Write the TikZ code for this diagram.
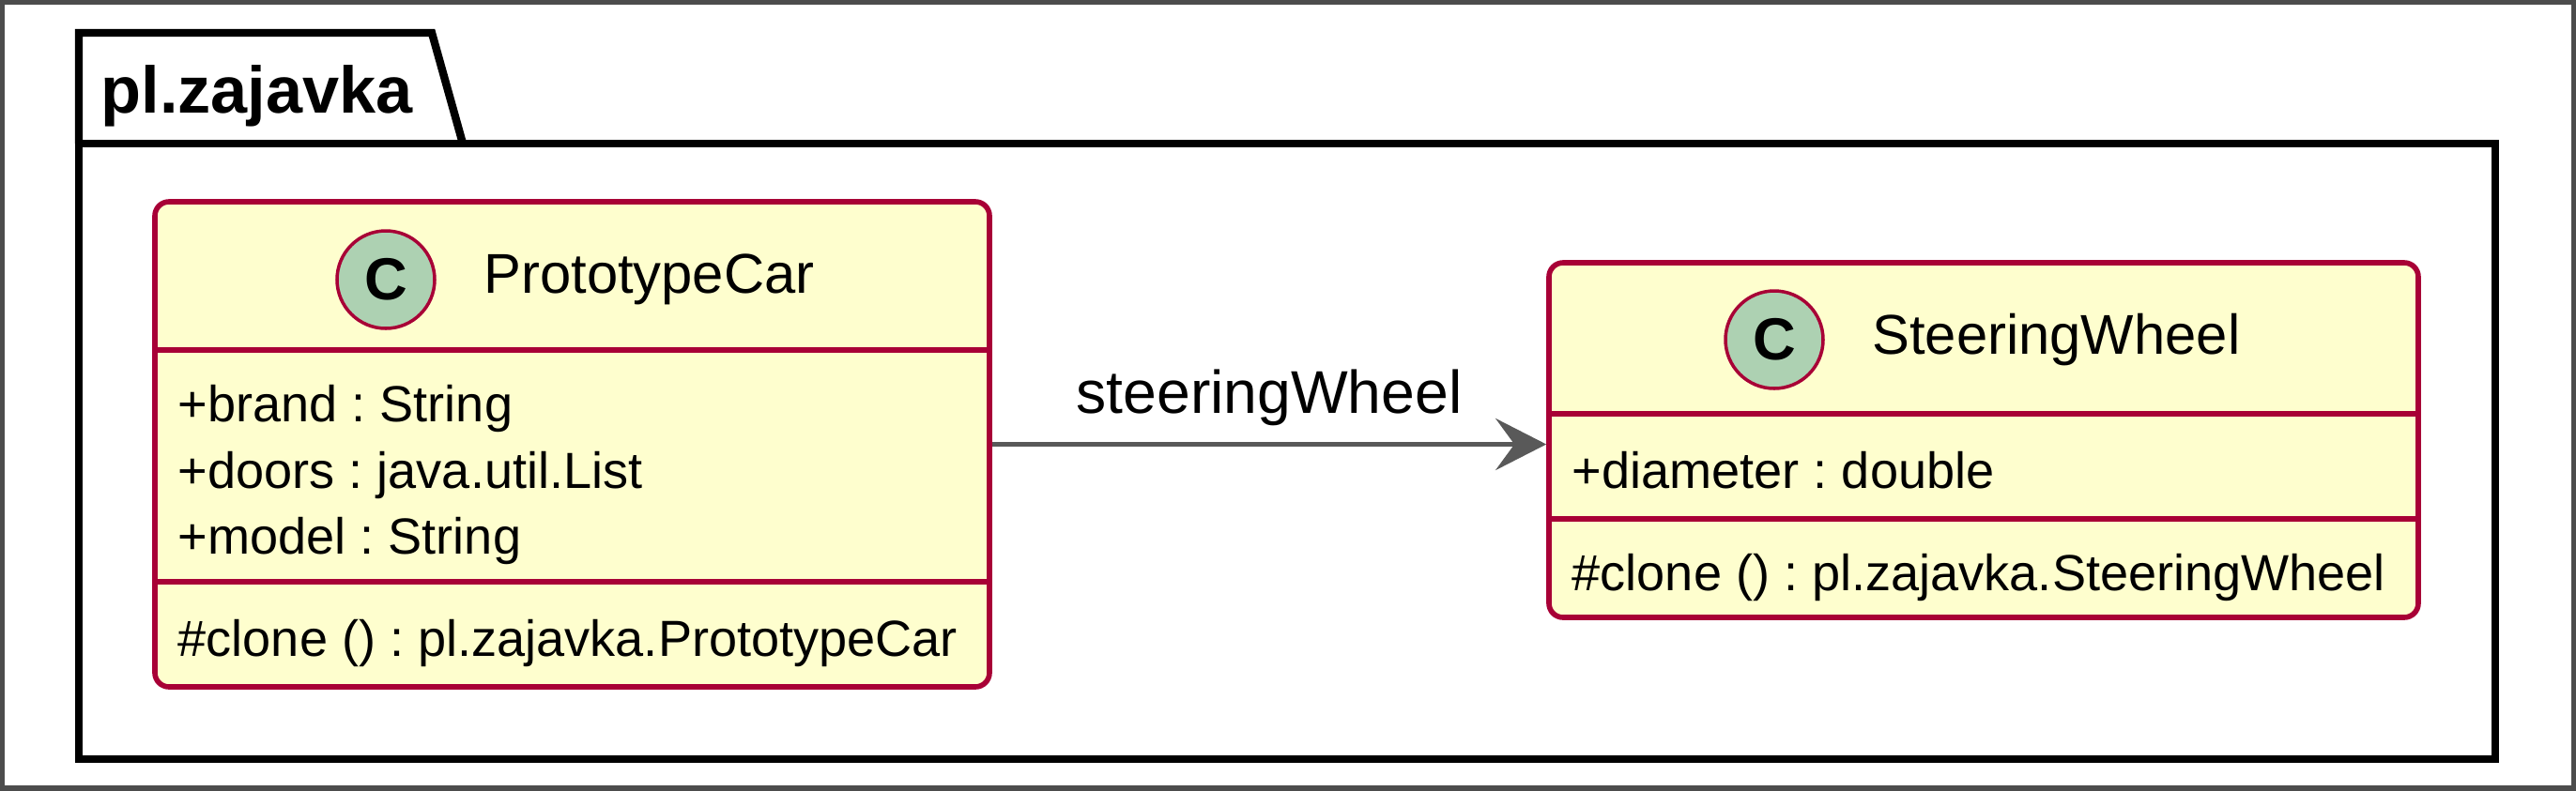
\documentclass[tikz,border=0pt]{standalone}
\usepackage{fontspec}
\setmainfont{Liberation Sans}
\usepackage{xcolor}
\usetikzlibrary{positioning, arrows.meta}
\frenchspacing

\definecolor{classfill}{HTML}{FEFECE}
\definecolor{classborder}{HTML}{A80036}
\definecolor{spotfill}{HTML}{ADD1B2}

\begin{document}
\begin{tikzpicture}[
	classbox/.style={draw=classborder, fill=classfill, line width=1.6pt, rounded corners=0.15cm, inner sep=0},
	classline/.style={draw=classborder, line width=1.5pt},
	spot/.style={circle, draw=classborder, fill=spotfill, line width=1pt, minimum size=1.04cm, inner sep=0, font=\fontsize{18}{20}\selectfont\bfseries},
	cname/.style={inner sep=0, font=\fontsize{17}{20}\selectfont},
	member/.style={anchor=base west, inner sep=0, font=\fontsize{15.4}{18}\selectfont},
	assoc/.style={draw=black!65, line width=1.5pt, -{Stealth[length=0.54cm, width=0.55cm, inset=0.2cm]}},
]

	\useasboundingbox (0,0) rectangle (27.44,-8.42);
	\draw[line width=0.06cm, black!70] (0.02,-0.02) rectangle (27.42,-8.40);

	% package
	\draw[line width=2.4pt] (0.84,-1.53) -- (0.84,-0.35) -- (4.60,-0.35) -- (4.93,-1.53);
	\draw[line width=2.4pt] (0.84,-1.53) rectangle (26.58,-8.09);
	\node[anchor=base west, inner sep=0, font=\fontsize{20}{24}\selectfont\bfseries] (pkg) at (1.07,-1.20) {pl.zajavka};

	% PrototypeCar
	\def \a {1.89}
	\node[classbox, minimum width=8.89cm, minimum height=5.17cm] (pc) at (6.095,-4.735) {};
	\draw[classline] (pc.west |- 0,-3.73) -- (pc.east |- 0,-3.73);
	\draw[classline] (pc.west |- 0,-6.20) -- (pc.east |- 0,-6.20);
	\node[spot] (pcspot) at (4.11,-2.98) {C};
	\node[cname, right=0.5cm of pcspot] (pcname) {PrototypeCar};
	\node[member] (pcbrand) at (\a,-4.49) {+brand : String};
	\node[member] (pcdoors) at (\a,-5.20) {+doors : java.util.List};
	\node[member] (pcmodel) at (\a,-5.90) {+model : String};
	\node[member] (pcclone) at (\a,-6.99) {\#clone () : pl.zajavka.PrototypeCar};

	% SteeringWheel
	\def \a {16.74}
	\node[classbox, minimum width=9.26cm, minimum height=3.78cm] (sw) at (21.13,-4.69) {};
	\draw[classline] (sw.west |- 0,-4.41) -- (sw.east |- 0,-4.41);
	\draw[classline] (sw.west |- 0,-5.53) -- (sw.east |- 0,-5.53);
	\node[spot] (swspot) at (18.90,-3.62) {C};
	\node[cname, right=0.5cm of swspot] (swname) {SteeringWheel};
	\node[member] (swdiam) at (\a,-5.20) {+diameter : double};
	\node[member] (swclone) at (\a,-6.29) {\#clone () : pl.zajavka.SteeringWheel};

	% association
	\draw[assoc] (pc.east) -- (pc.east -| sw.west)
		node[midway, anchor=base, yshift=0.33cm, inner sep=0, font=\fontsize{18.3}{22}\selectfont] (assoclbl) {steeringWheel};

\end{tikzpicture}
\end{document}
